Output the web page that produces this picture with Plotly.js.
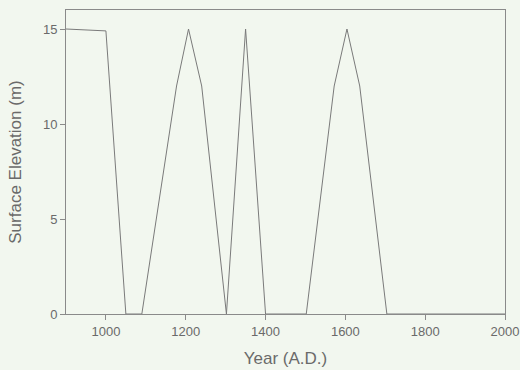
<!DOCTYPE html>
<html><head><meta charset="utf-8">
<script src="https://cdn.plot.ly/plotly-3.0.1.min.js"></script>
<style>html,body{margin:0;padding:0;background:#f2f7ef;}</style>
</head><body>
<div id="chart" style="width:520px;height:370px;"></div>
<script>
var years = [900, 1000, 1050, 1090, 1177, 1207, 1240, 1302, 1350, 1400, 1502, 1572, 1604, 1636, 1704, 2000];
var elevation = [15, 14.9, 0, 0, 12, 15, 12, 0, 15, 0, 0, 12, 15, 12, 0, 0];
var xTicks = [1000, 1200, 1400, 1600, 1800, 2000];
var yTicks = [0, 5, 10, 15];

var font = {family: 'Liberation Sans, Arial, sans-serif', color: '#6a6a6a'};
Plotly.newPlot('chart', [{
  x: years, y: elevation, type: 'scatter', mode: 'lines',
  line: {color: '#7a7a7a', width: 1}, hoverinfo: 'none'
}], {
  width: 520, height: 370,
  margin: {l: 66, r: 15, t: 10, b: 56},
  paper_bgcolor: '#f2f7ef', plot_bgcolor: '#f2f7ef',
  showlegend: false,
  font: font,
  xaxis: {
    range: [900, 2000], tickvals: xTicks, ticktext: xTicks.map(String),
    showgrid: false, zeroline: false, showline: true, mirror: true,
    linecolor: '#8a8a8a', linewidth: 1, ticks: 'outside', ticklen: 5, tickcolor: '#8a8a8a',
    tickfont: {size: 13, color: '#6a6a6a', family: font.family},
    title: {text: 'Year (A.D.)', font: {size: 17, color: '#6a6a6a', family: font.family}, standoff: 14}
  },
  yaxis: {
    range: [0, 16], tickvals: yTicks, ticktext: yTicks.map(String),
    showgrid: false, zeroline: false, showline: true, mirror: true,
    linecolor: '#8a8a8a', linewidth: 1, ticks: 'outside', ticklen: 5, tickcolor: '#8a8a8a',
    tickfont: {size: 13, color: '#6a6a6a', family: font.family},
    title: {text: 'Surface Elevation (m)', font: {size: 17, color: '#6a6a6a', family: font.family}, standoff: 16}
  }
}, {staticPlot: true});
</script>
</body></html>
